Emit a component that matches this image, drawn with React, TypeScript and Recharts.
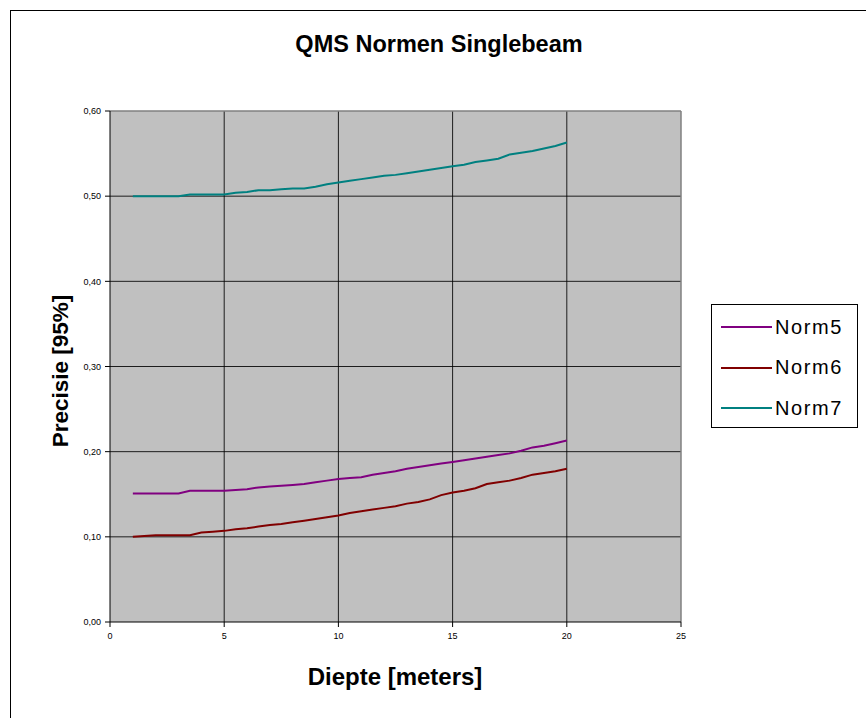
import { LineChart, Line, XAxis, YAxis, CartesianGrid, ReferenceLine } from 'recharts';

// diepte in meters (stap 0,5)
const depths = [
  1, 1.5, 2, 2.5, 3, 3.5, 4, 4.5, 5, 5.5, 6, 6.5, 7, 7.5, 8, 8.5, 9, 9.5, 10, 10.5,
  11, 11.5, 12, 12.5, 13, 13.5, 14, 14.5, 15, 15.5, 16, 16.5, 17, 17.5, 18, 18.5, 19, 19.5, 20,
];

const norm5 = [
  0.151, 0.151, 0.151, 0.151, 0.151, 0.154, 0.154, 0.154, 0.154, 0.155, 0.156, 0.158, 0.159, 0.16,
  0.161, 0.162, 0.164, 0.166, 0.168, 0.169, 0.17, 0.173, 0.175, 0.177, 0.18, 0.182, 0.184, 0.186,
  0.188, 0.19, 0.192, 0.194, 0.196, 0.198, 0.201, 0.205, 0.207, 0.21, 0.213,
];

const norm6 = [
  0.1, 0.101, 0.102, 0.102, 0.102, 0.102, 0.105, 0.106, 0.107, 0.109, 0.11, 0.112, 0.114, 0.115,
  0.117, 0.119, 0.121, 0.123, 0.125, 0.128, 0.13, 0.132, 0.134, 0.136, 0.139, 0.141, 0.144, 0.149,
  0.152, 0.154, 0.157, 0.162, 0.164, 0.166, 0.169, 0.173, 0.175, 0.177, 0.18,
];

const norm7 = [
  0.5, 0.5, 0.5, 0.5, 0.5, 0.502, 0.502, 0.502, 0.502, 0.504, 0.505, 0.507, 0.507, 0.508, 0.509,
  0.509, 0.511, 0.514, 0.516, 0.518, 0.52, 0.522, 0.524, 0.525, 0.527, 0.529, 0.531, 0.533, 0.535,
  0.537, 0.54, 0.542, 0.544, 0.549, 0.551, 0.553, 0.556, 0.559, 0.563,
];

const xTicks = [0, 5, 10, 15, 20, 25];
const yTicks = [0, 0.1, 0.2, 0.3, 0.4, 0.5, 0.6];

const SERIES = [
  { key: 'Norm5', color: '#800080' },
  { key: 'Norm6', color: '#800000' },
  { key: 'Norm7', color: '#008080' },
];

const data = depths.map((d, i) => ({ diepte: d, Norm5: norm5[i], Norm6: norm6[i], Norm7: norm7[i] }));

const FONT = '"Liberation Sans", Arial, sans-serif';

const fmt = (v: number) => v.toFixed(2).replace('.', ',');

// legenda als los blok rechts van het plotvlak
function NormLegend() {
  return (
    <div
      style={{
        position: 'absolute',
        left: 711,
        top: 304,
        width: 147,
        height: 124,
        border: '1px solid #000',
        background: '#fff',
        boxSizing: 'border-box',
        paddingTop: 2,
      }}
    >
      {SERIES.map((s) => (
        <div key={s.key} style={{ display: 'flex', alignItems: 'center', height: 40.5 }}>
          <div style={{ marginLeft: 9, width: 51, height: 2, background: s.color }} />
          <span
            style={{
              marginLeft: 3,
              fontFamily: FONT,
              fontSize: 20,
              letterSpacing: 1.6,
              color: '#000',
            }}
          >
            {s.key}
          </span>
        </div>
      ))}
    </div>
  );
}

export default function App() {
  return (
    <div style={{ position: 'absolute', left: 0, top: 0, width: 866, height: 718, overflow: 'hidden', background: '#fff' }}>
      <div
        style={{
          position: 'absolute',
          left: 10,
          top: 10,
          width: 900,
          height: 800,
          border: '1px solid #000',
        }}
      />
      <div style={{ position: 'absolute', left: 0, top: 0 }}>
        <LineChart width={866} height={718} data={data} margin={{ top: 111, right: 185, bottom: 66, left: 60 }}>
          <text x={439} y={44} textAnchor="middle" dominantBaseline="central" fontFamily={FONT} fontSize={23.5} fontWeight="bold" fill="#000">
            QMS Normen Singlebeam
          </text>
          <text x={395} y={676} textAnchor="middle" dominantBaseline="central" fontFamily={FONT} fontSize={24} fontWeight="bold" fill="#000">
            Diepte [meters]
          </text>
          <text
            x={60}
            y={371}
            textAnchor="middle"
            dominantBaseline="central"
            transform="rotate(-90 60 371)"
            fontFamily={FONT}
            fontSize={22.5}
            fontWeight="bold"
            fill="#000"
          >
            Precisie [95%]
          </text>
          <CartesianGrid
            fill="#C0C0C0"
            stroke="#000"
            strokeOpacity={0.85}
            horizontalValues={[0.1, 0.2, 0.3, 0.4, 0.5]}
            verticalValues={[5, 10, 15, 20]}
          />
          <ReferenceLine y={0.6} stroke="#808080" strokeWidth={1.5} />
          <ReferenceLine x={25} stroke="#808080" strokeWidth={1.5} />
          <XAxis
            dataKey="diepte"
            type="number"
            domain={[0, 25]}
            ticks={xTicks}
            height={30}
            stroke="#000"
            tickSize={5}
            tickMargin={6}
            tick={{ fontFamily: FONT, fontSize: 9, fill: '#000' }}
          />
          <YAxis
            type="number"
            domain={[0, 0.6]}
            ticks={yTicks}
            width={50}
            stroke="#000"
            tickSize={5}
            tickMargin={4}
            tickFormatter={fmt}
            tick={{ fontFamily: FONT, fontSize: 9, fill: '#000' }}
          />
          {SERIES.map((s) => (
            <Line
              key={s.key}
              type="linear"
              dataKey={s.key}
              stroke={s.color}
              strokeWidth={2}
              dot={false}
              isAnimationActive={false}
            />
          ))}
        </LineChart>
      </div>
      <NormLegend />
    </div>
  );
}
